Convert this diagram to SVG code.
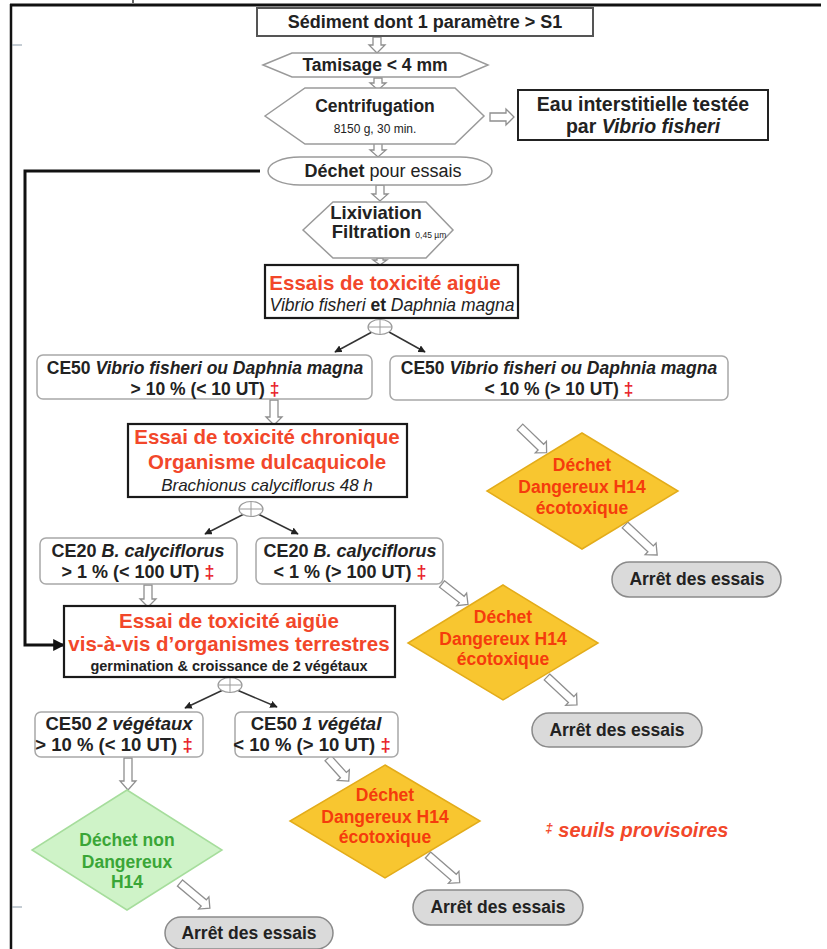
<svg xmlns="http://www.w3.org/2000/svg" width="827" height="949" viewBox="0 0 827 949">
<style>
text{font-family:"Liberation Sans",Arial,sans-serif;fill:#222;text-anchor:middle}
.b{font-weight:bold}
.i{font-style:italic}
.red{fill:#f2472a;font-weight:bold;font-size:20.5px}
.dz{fill:#f53c0c;font-weight:bold;font-size:17.5px}
.gz{fill:#3aa637;font-weight:bold;font-size:17.5px}
.dg{fill:#e8222a}
.hex{fill:#fff;stroke:#9a9a9a;stroke-width:1.5}
.rbox{fill:#fff;stroke:#a8a8a8;stroke-width:1.5}
.kbox{fill:#fff;stroke:#1a1a1a;stroke-width:2.2}
.ydia{fill:#f8c630;stroke:#e3ac1a;stroke-width:1.5}
.gdia{fill:#cff3c8;stroke:#a6dd9c;stroke-width:1.5}
.stop{fill:#dadada;stroke:#8a8a8a;stroke-width:1.5}
.ha{fill:#fff;stroke:#8f8f8f;stroke-width:1.3}
.thin{stroke:#333;stroke-width:1.5;fill:none}
.oplus{fill:#fff;stroke:#9a9a9a;stroke-width:1.2}
</style>
<defs>
<marker id="ah" viewBox="0 0 10 10" refX="9" refY="5" markerWidth="5" markerHeight="5" orient="auto">
<path d="M0,0 L10,5 L0,10 Z" fill="#222"/>
</marker>
<marker id="bh" viewBox="0 0 10 10" refX="9" refY="5" markerWidth="4" markerHeight="4" orient="auto">
<path d="M0,0 L10,5 L0,10 Z" fill="#111"/>
</marker>
</defs>

<g id="frame">
<line x1="10" y1="5" x2="821" y2="5" stroke="#111" stroke-width="3"/>
<line x1="11" y1="4" x2="11" y2="949" stroke="#111" stroke-width="2.5"/>
<line x1="12" y1="45" x2="22" y2="45" stroke="#8a9aa8" stroke-width="1"/>
<line x1="12" y1="907" x2="22" y2="907" stroke="#8a9aa8" stroke-width="1"/>
<line x1="133" y1="0" x2="133" y2="3" stroke="#333" stroke-width="1.5"/>
</g>

<g id="connectors">
<path class="ha" d="M373,37 V45 H369 L377,53 L385,45 H381 V37 Z"/>
<path class="ha" d="M374,78 V83 H370 L378,90 L386,83 H382 V78 Z"/>
<path class="ha" d="M374,143 V150 H370 L378,157 L386,150 H382 V143 Z"/>
<path class="ha" d="M376,185 V194 H372 L380,201 L388,194 H384 V185 Z"/>
<path class="ha" d="M377,258 V260 H373 L380,265 L387,260 H383 V258 Z"/>
<path class="ha" d="M270,400 V417 H266 L274,425 L282,417 H278 V400 Z"/>
<path class="ha" d="M144,585 V599 H140 L148,607 L156,599 H152 V585 Z"/>
<path class="ha" d="M124,758 V781 H120 L128,790 L136,781 H132 V758 Z"/>
<path class="ha" d="M490,113 H506 V109 L514,117 L506,125 V121 H490 Z"/>
<g class="ha">
<path transform="translate(520,427) rotate(44)" d="M0,-4 H29 V-8 L37,0 L29,8 V4 H0 Z"/>
<path transform="translate(625,525) rotate(43)" d="M0,-4 H35 V-8 L44,0 L35,8 V4 H0 Z"/>
<path transform="translate(442,584) rotate(38)" d="M0,-4 H25 V-8 L33,0 L25,8 V4 H0 Z"/>
<path transform="translate(547,677) rotate(43)" d="M0,-4 H33 V-8 L41,0 L33,8 V4 H0 Z"/>
<path transform="translate(328,758) rotate(48)" d="M0,-4 H23 V-8 L31,0 L23,8 V4 H0 Z"/>
<path transform="translate(180,883) rotate(40)" d="M0,-4 H31 V-8 L39,0 L31,8 V4 H0 Z"/>
<path transform="translate(428,855) rotate(41)" d="M0,-4 H34 V-8 L42,0 L34,8 V4 H0 Z"/>
</g>
<line class="thin" x1="372" y1="332" x2="335" y2="352" marker-end="url(#ah)"/>
<line class="thin" x1="389" y1="332" x2="425" y2="352" marker-end="url(#ah)"/>
<line class="thin" x1="244" y1="514" x2="205" y2="534" marker-end="url(#ah)"/>
<line class="thin" x1="258" y1="514" x2="298" y2="534" marker-end="url(#ah)"/>
<line class="thin" x1="223" y1="690" x2="185" y2="708" marker-end="url(#ah)"/>
<line class="thin" x1="237" y1="690" x2="277" y2="707" marker-end="url(#ah)"/>
<path d="M260,171 H25 V645 H64" fill="none" stroke="#111" stroke-width="3" marker-end="url(#bh)"/>
<ellipse class="oplus" cx="380" cy="327" rx="12" ry="7.5"/>
<path d="M368,327 H392 M380,319.5 V334.5" stroke="#9a9a9a" stroke-width="1"/>
<ellipse class="oplus" cx="251" cy="509" rx="12" ry="7.5"/>
<path d="M239,509 H263 M251,501.5 V516.5" stroke="#9a9a9a" stroke-width="1"/>
<ellipse class="oplus" cx="230" cy="685" rx="12" ry="7.5"/>
<path d="M218,685 H242 M230,677.5 V692.5" stroke="#9a9a9a" stroke-width="1"/>
</g>

<g id="n-sediment">
<rect x="257" y="8" width="336" height="28" fill="#fff" stroke="#555" stroke-width="2"/>
<text x="425" y="28" class="b" font-size="18">Sédiment dont 1 paramètre &gt; S1</text>
</g>

<g id="n-tamisage">
<polygon class="hex" points="263,65 292,53 460,53 488,65 460,77 292,77"/>
<text x="375" y="71" class="b" font-size="17.5">Tamisage &lt; 4 mm</text>
</g>

<g id="n-centrifugation">
<polygon class="hex" points="265,116 305,88 455,88 484,116 455,144 305,144"/>
<text x="375" y="112" class="b" font-size="17.5">Centrifugation</text>
<text x="375" y="133" font-size="12">8150 g, 30 min.</text>
</g>

<g id="n-eau">
<rect x="518" y="90" width="250" height="50" fill="#fff" stroke="#222" stroke-width="2"/>
<text x="643" y="111" class="b" font-size="19.5">Eau interstitielle testée</text>
<text x="643" y="133" class="b" font-size="19.5">par <tspan class="i">Vibrio fisheri</tspan></text>
</g>

<g id="n-dechet">
<rect x="268" y="157" width="224" height="28" rx="32" ry="14" fill="#fff" stroke="#9a9a9a" stroke-width="1.5"/>
<text x="383" y="177" font-size="18"><tspan class="b">Déchet</tspan> pour essais</text>
</g>

<g id="n-lixiviation">
<polygon class="hex" points="303,230 333,202 426,202 453,230 426,258 333,258"/>
<text x="376" y="219" class="b" font-size="18.5">Lixiviation</text>
<text x="389" y="238"><tspan class="b" font-size="18.5">Filtration</tspan> <tspan font-size="8.5">0,45 µm</tspan></text>
</g>

<g id="n-essais">
<rect x="265" y="265" width="253" height="53" fill="#fff" stroke="#1a1a1a" stroke-width="2.2"/>
<text x="385" y="290" class="red">Essais de toxicité aigüe</text>
<text x="392" y="311" font-size="17.5" class="i">Vibrio fisheri <tspan class="b" font-style="normal">et</tspan> Daphnia magna</text>
</g>

<g id="n-ce50-sup">
<rect class="rbox" x="37" y="355" width="335" height="44" rx="6"/>
<text x="205" y="374" class="b" font-size="17.5">CE50 <tspan class="i">Vibrio fisheri ou Daphnia  magna</tspan></text>
<text x="205" y="395" class="b" font-size="17.5">&gt; 10 % (&lt; 10 UT) <tspan class="dg">‡</tspan></text>
</g>

<g id="n-ce50-inf">
<rect class="rbox" x="390" y="356" width="338" height="44" rx="6"/>
<text x="559" y="374" class="b" font-size="17.5">CE50 <tspan class="i">Vibrio fisheri ou Daphnia  magna</tspan></text>
<text x="559" y="395" class="b" font-size="17.5">&lt; 10 % (&gt; 10 UT) <tspan class="dg">‡</tspan></text>
</g>

<g id="n-chronique">
<rect class="kbox" x="128" y="424" width="279" height="73"/>
<text x="267" y="444" class="red">Essai de toxicité chronique</text>
<text x="267" y="469" class="red">Organisme dulcaquicole</text>
<text x="267" y="491" class="i" font-size="17">Brachionus calyciflorus 48 h</text>
</g>

<g id="n-dangereux-1">
<polygon class="ydia" points="582,433 678,491 582,549 487,491"/>
<text x="582" y="471" class="dz">Déchet</text>
<text x="582" y="493" class="dz">Dangereux H14</text>
<text x="582" y="514" class="dz">écotoxique</text>
</g>

<g id="n-arret-1">
<rect class="stop" x="612" y="562" width="169" height="35" rx="17.5"/>
<text x="697" y="585" class="b" font-size="17.5">Arrêt des essais</text>
</g>

<g id="n-ce20-sup">
<rect class="rbox" x="40" y="538" width="197" height="46" rx="6"/>
<text x="138" y="557" class="b" font-size="18">CE20 <tspan class="i">B. calyciflorus</tspan></text>
<text x="138" y="578" class="b" font-size="18">&gt; 1 % (&lt; 100 UT) <tspan class="dg">‡</tspan></text>
</g>

<g id="n-ce20-inf">
<rect class="rbox" x="256" y="538" width="187" height="46" rx="6"/>
<text x="350" y="557" class="b" font-size="18">CE20 <tspan class="i">B. calyciflorus</tspan></text>
<text x="350" y="578" class="b" font-size="18">&lt; 1 % (&gt; 100 UT) <tspan class="dg">‡</tspan></text>
</g>

<g id="n-dangereux-2">
<polygon class="ydia" points="503,585 598,643 503,700 408,643"/>
<text x="503" y="623" class="dz">Déchet</text>
<text x="503" y="645" class="dz">Dangereux H14</text>
<text x="503" y="665" class="dz">écotoxique</text>
</g>

<g id="n-arret-2">
<rect class="stop" x="532" y="713" width="170" height="34" rx="17"/>
<text x="617" y="736" class="b" font-size="17.5">Arrêt des essais</text>
</g>

<g id="n-terrestre">
<rect class="kbox" x="64" y="606" width="331" height="71"/>
<text x="229" y="628" class="red">Essai de toxicité aigüe</text>
<text x="229" y="651" class="red">vis-à-vis d’organismes terrestres</text>
<text x="229" y="671" class="b" font-size="14.5">germination &amp; croissance de 2 végétaux</text>
</g>

<g id="n-ce50-2veg">
<rect class="rbox" x="35" y="712" width="168" height="45" rx="6"/>
<text x="119" y="730" class="b" font-size="18.5">CE50 <tspan class="i">2 végétaux</tspan></text>
<text x="114" y="751" class="b" font-size="18.5">&gt; 10 % (&lt; 10 UT) <tspan class="dg">‡</tspan></text>
</g>

<g id="n-ce50-1veg">
<rect class="rbox" x="235" y="712" width="163" height="45" rx="6"/>
<text x="316" y="730" class="b" font-size="18.5">CE50 <tspan class="i">1 végétal</tspan></text>
<text x="312" y="751" class="b" font-size="18.5">&lt; 10 % (&gt; 10 UT) <tspan class="dg">‡</tspan></text>
</g>

<g id="n-non-dangereux">
<polygon class="gdia" points="127,790 222,850 127,910 32,850"/>
<text x="127" y="846" class="gz">Déchet non</text>
<text x="127" y="868" class="gz">Dangereux</text>
<text x="127" y="888" class="gz">H14</text>
</g>

<g id="n-arret-3">
<rect class="stop" x="165" y="917" width="168" height="32" rx="16"/>
<text x="249" y="939" class="b" font-size="17.5">Arrêt des essais</text>
</g>

<g id="n-dangereux-3">
<polygon class="ydia" points="385,765 480,821 385,878 290,821"/>
<text x="385" y="801" class="dz">Déchet</text>
<text x="385" y="823" class="dz">Dangereux H14</text>
<text x="385" y="843" class="dz">écotoxique</text>
</g>

<g id="n-arret-4">
<rect class="stop" x="413" y="890" width="170" height="35" rx="17.5"/>
<text x="498" y="913" class="b" font-size="17.5">Arrêt des essais</text>
</g>

<g id="legend">
<text x="637" y="837" font-size="20" class="b i" style="fill:#f2472a"><tspan font-size="13" dy="-5">‡</tspan><tspan dy="5"> seuils provisoires</tspan></text>
</g>
</svg>
